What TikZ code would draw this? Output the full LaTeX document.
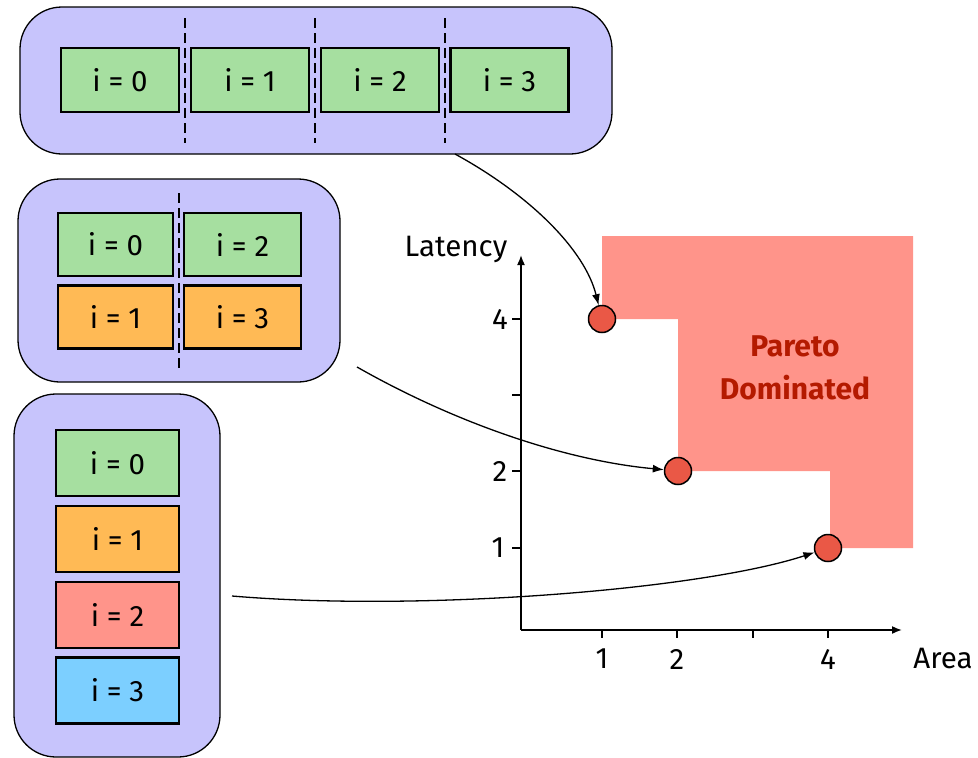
\documentclass[tikz,border=0pt]{standalone}
\usepackage{fontspec}
\setmainfont{Fira Sans}
\usetikzlibrary{arrows.meta}

\definecolor{lav}{RGB}{199,196,252}
\definecolor{cellgreen}{RGB}{166,223,160}
\definecolor{cellorange}{RGB}{255,186,85}
\definecolor{cellred}{RGB}{255,148,138}
\definecolor{cellblue}{RGB}{124,207,255}
\definecolor{regionred}{RGB}{255,148,138}
\definecolor{dotred}{RGB}{234,88,70}
\definecolor{labelred}{RGB}{180,26,0}

\tikzset{
  container/.style={draw=black, line width=1.3pt, fill=lav, rounded corners=42pt, inner sep=0pt},
  cell/.style={draw=black, line width=2.4pt, inner sep=0pt, minimum height=64pt},
  sep/.style={draw=black, line width=2.4pt, dash pattern=on 10pt off 5pt},
  axis/.style={line width=1.6pt, -{Latex[length=10pt,width=8pt]}},
  tick/.style={line width=1.6pt},
  dot/.style={circle, draw=black, line width=1.5pt, fill=dotred, minimum size=27pt, inner sep=0pt},
  link/.style={line width=1.3pt, -{Latex[length=11pt,width=8pt]}},
  lbl/.style={inner sep=0pt},
}

\begin{document}
\begin{tikzpicture}[x=1pt, y=-1pt, font=\fontsize{29.5}{33}\selectfont]
\useasboundingbox (0,0) rectangle (978,758);

% --- fully unrolled loop: four iterations side by side
\node[container, minimum width=592pt, minimum height=147pt] (top) at (316,80.5) {};
\node[cell, fill=cellgreen, minimum width=118pt] (t0) at (120,80) {i = 0};
\node[cell, fill=cellgreen, minimum width=118pt] (t1) at (250,80) {i = 1};
\node[cell, fill=cellgreen, minimum width=118pt] (t2) at (380,80) {i = 2};
\node[cell, fill=cellgreen, minimum width=118pt] (t3) at (509.5,80) {i = 3};
\foreach \x in {185,315,445} \draw[sep] (\x,18) -- (\x,143);

% --- unrolled by two
\node[container, minimum width=322pt, minimum height=203pt] (mid) at (179,280.5) {};
\node[cell, fill=cellgreen, minimum width=115pt, minimum height=63pt] (m0) at (115.5,244.5) {i = 0};
\node[cell, fill=cellgreen, minimum width=117pt, minimum height=63pt] (m2) at (242.5,244.5) {i = 2};
\node[cell, fill=cellorange, minimum width=115pt, minimum height=63pt] (m1) at (115.5,317) {i = 1};
\node[cell, fill=cellorange, minimum width=117pt, minimum height=63pt] (m3) at (242.5,317) {i = 3};
\draw[sep] (179,193) -- (179,370);

% --- sequential loop
\node[container, minimum width=206pt, minimum height=363pt] (bot) at (117,575.5) {};
\node[cell, fill=cellgreen,  minimum width=123pt, minimum height=66pt] (b0) at (117.5,463) {i = 0};
\node[cell, fill=cellorange, minimum width=123pt, minimum height=66pt] (b1) at (117.5,539) {i = 1};
\node[cell, fill=cellred,    minimum width=123pt, minimum height=66pt] (b2) at (117.5,615) {i = 2};
\node[cell, fill=cellblue,   minimum width=123pt, minimum height=66pt] (b3) at (117.5,690.5) {i = 3};

% --- dominated region
\fill[regionred] (602,236) -- (913,236) -- (913,548) -- (830,548) -- (830,471)
  -- (678,471) -- (678,319) -- (602,319) -- cycle;
\node[lbl, font=\fontsize{30}{34}\selectfont\bfseries, text=labelred] (par) at (795,346) {Pareto};
\node[lbl, font=\fontsize{30}{34}\selectfont\bfseries, text=labelred] (dom) at (795,388) {Dominated};

% --- axes
\coordinate (O) at (521,630);
\coordinate (ytop) at (521,255);
\coordinate (xend) at (902,630);
\draw[axis] (O) -- (ytop);
\draw[axis] (O) -- (xend);
\foreach \y in {319,395,471,548} \draw[tick] (512,\y) -- (521,\y);
\foreach \x in {602,677,753,828} \draw[tick] (\x,630) -- (\x,638);
\node[lbl] (y4) at (500,319) {4};
\node[lbl] (y2) at (500,471) {2};
\node[lbl] (y1) at (498,548) {1};
\node[lbl] (x1) at (602,659) {1};
\node[lbl] (x2) at (677,659) {2};
\node[lbl] (x4) at (828,659) {4};
\node[lbl] (ylab) at (456,249) {Latency};
\node[lbl] (xlab) at (943,659) {Area};

% --- design points
\node[dot] (p4) at (602,319) {};
\node[dot] (p2) at (678,471) {};
\node[dot] (p1) at (828,548) {};

% --- connectors
\coordinate (s1) at (455,154);
\coordinate (s2) at (357,367);
\coordinate (s3) at (232,596);
\draw[link] (s1) .. controls (530,195) and (585,250) .. (p4);
\draw[link] (s2) .. controls (450,420) and (560,460) .. (p2);
\draw[link] (s3) .. controls (420,612) and (700,590) .. (p1);
\end{tikzpicture}
\end{document}
